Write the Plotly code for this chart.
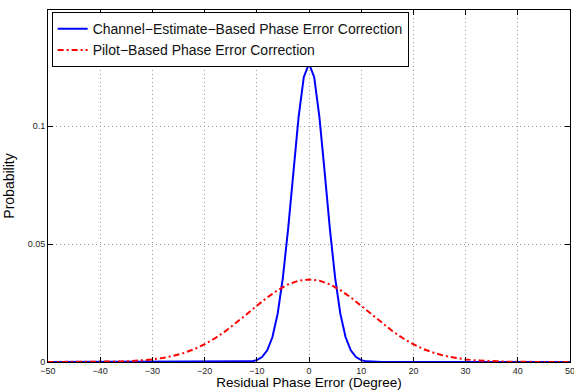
import plotly.graph_objects as go

# Channel-estimate-based (blue)
blue_x = [-50, -14, -13, -12, -11, -10, -9, -8, -7, -6, -5, -4, -3, -2, -1, 0,
          1, 2, 3, 4, 5, 6, 7, 8, 9, 10, 11, 12, 13, 14, 50]
blue_y = [0.0, 0.0, 0.00002, 0.00009, 0.00027, 0.0008, 0.00209, 0.00495, 0.0106, 0.0205,
          0.0358, 0.0564, 0.0805, 0.1037, 0.1207, 0.1265,
          0.1207, 0.1037, 0.0805, 0.0564, 0.0358, 0.0205, 0.0106, 0.00495, 0.00209,
          0.0008, 0.00027, 0.00009, 0.00002, 0.0, 0.0]

# Pilot-based (red)
red_x = [-50, -48, -46, -44, -42, -40, -38, -36, -34, -32, -30, -28, -26, -24, -22, -20,
         -18, -16, -14, -12, -10, -8, -6, -4, -2, 0, 2, 4, 6, 8, 10, 12, 14, 16, 18, 20,
         22, 24, 26, 28, 30, 32, 34, 36, 38, 40, 42, 44, 46, 48, 50]
red_y = [0.0, 0.0, 0.00001, 0.00002, 0.00004, 0.00007, 0.00014, 0.00024, 0.00041, 0.00068,
         0.0011, 0.00172, 0.0026, 0.00382, 0.00544, 0.00751, 0.01006, 0.01307, 0.01646,
         0.02011, 0.02382, 0.02736, 0.03047, 0.03291, 0.03447, 0.035, 0.03447, 0.03291,
         0.03047, 0.02736, 0.02382, 0.02011, 0.01646, 0.01307, 0.01006, 0.00751, 0.00544,
         0.00382, 0.0026, 0.00172, 0.0011, 0.00068, 0.00041, 0.00024, 0.00014, 0.00007,
         0.00004, 0.00002, 0.00001, 0.0, 0.0]

x_ticks = [-50, -40, -30, -20, -10, 0, 10, 20, 30, 40, 50]
x_labels = ["\u221250", "\u221240", "\u221230", "\u221220", "\u221210", "0", "10", "20", "30", "40", "50"]
y_ticks = [0, 0.05, 0.1]
y_labels = ["0", "0.05", "0.1"]

font = "Liberation Sans, Arial, Helvetica, sans-serif"

fig = go.Figure()
fig.add_trace(go.Scatter(x=blue_x, y=blue_y, mode="lines",
                         name="Channel\u2212Estimate\u2212Based Phase Error Correction",
                         line=dict(color="#0000ff", width=2)))
fig.add_trace(go.Scatter(x=red_x, y=red_y, mode="lines",
                         name="Pilot\u2212Based Phase Error Correction",
                         line=dict(color="#ff0000", width=2, dash="6px,3px,2px,3px")))

axis_common = dict(showline=True, linecolor="black", linewidth=1, mirror="allticks",
                   ticks="inside", ticklen=5, tickcolor="black",
                   showgrid=True, gridcolor="#9a9a9a", griddash="1px,3px", gridwidth=1,
                   zeroline=False, ticklabeloverflow="allow", automargin=False,
                   tickfont=dict(family=font, size=9, color="#222"))

fig.update_layout(
    width=574, height=390,
    margin=dict(l=48, r=4, t=10, b=28, autoexpand=False),
    paper_bgcolor="white", plot_bgcolor="white",
    font=dict(family=font, color="black"),
    showlegend=True,
    legend=dict(x=0.007, y=0.994, xanchor="left", yanchor="top",
                bordercolor="black", borderwidth=1, bgcolor="white",
                font=dict(family=font, size=14, color="#111"),
                tracegroupgap=0, itemwidth=30),
    xaxis=dict(range=[-50, 50], tickvals=x_ticks, ticktext=x_labels,
               title=dict(text="Residual Phase Error (Degree)", standoff=5,
                          font=dict(family=font, size=13.5)),
               **axis_common),
    yaxis=dict(range=[0, 0.1492], tickvals=y_ticks, ticktext=y_labels,
               title=dict(text="Probability", standoff=9,
                          font=dict(family=font, size=14)),
               **axis_common),
)

fig.write_html("out.html")
